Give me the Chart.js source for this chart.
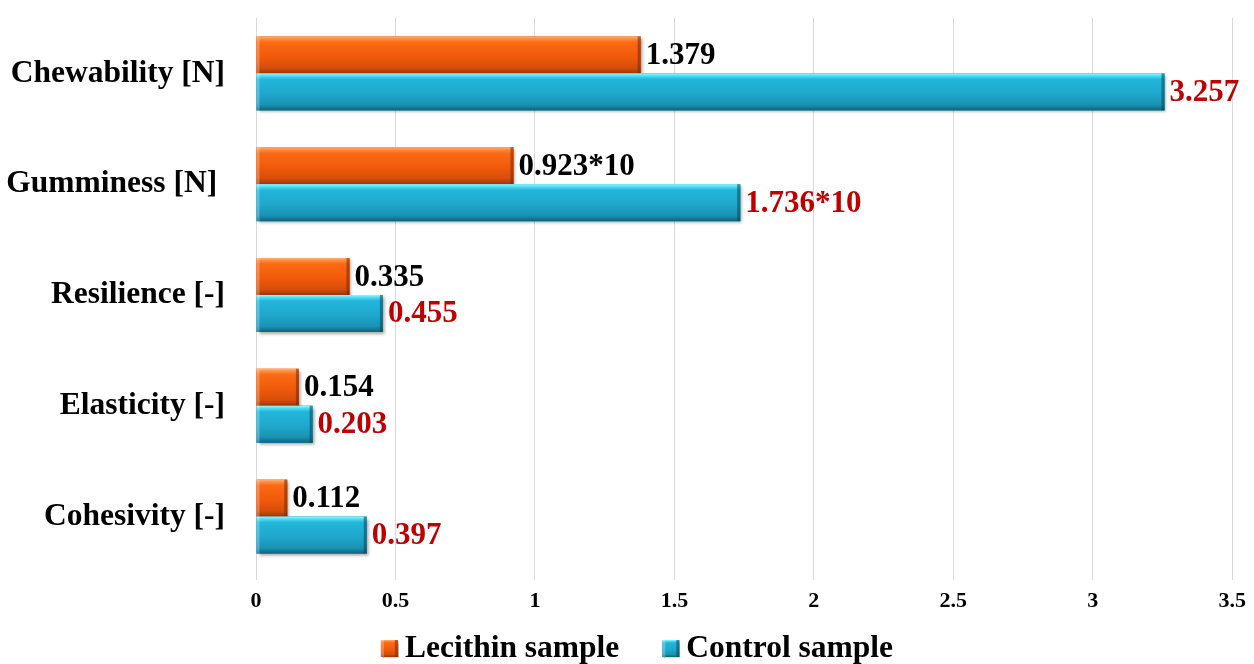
<!DOCTYPE html>
<html>
<head>
<meta charset="utf-8">
<script src="https://cdn.jsdelivr.net/npm/chart.js@4/dist/chart.umd.min.js"></script>
<style>
  html, body { margin: 0; padding: 0; background: #ffffff; }
  #wrap { width: 1254px; height: 664px; position: relative; }
</style>
</head>
<body>
<div id="wrap"><canvas id="chart"></canvas></div>
<script>
// Texture profile measurements
const categories = ['Chewability [N]', 'Gumminess [N] ', 'Resilience [-]', 'Elasticity [-]', 'Cohesivity [-]'];
const lecithinValues = [1.379, 0.923, 0.335, 0.154, 0.112];
const controlValues = [3.257, 1.736, 0.455, 0.203, 0.397];
// Gumminess is shown in tens of newtons
const valueSuffix = ['', '*10', '', '', ''];
const seriesNames = ['Lecithin sample', 'Control sample'];
const xTicks = [0, 0.5, 1, 1.5, 2, 2.5, 3, 3.5];

const FONT = "'Liberation Serif', 'Times New Roman', serif";

const palettes = [
  { base: '#f25c0c', stops: [[0, '#ffb27e'], [0.07, '#ff8a3c'], [0.16, '#fb6a14'], [0.55, '#f05a0a'], [0.85, '#d44e0b'], [1, '#9c3807']], edge: 'rgba(120,40,0,0.55)', label: '#000000' },
  { base: '#1ea8cc', stops: [[0, '#9af6ff'], [0.07, '#4adcf2'], [0.16, '#22b6da'], [0.55, '#1ea8cc'], [0.85, '#1a92b2'], [1, '#0f627a']], edge: 'rgba(8,70,90,0.55)', label: '#c00000' }
];

function fillBevel(ctx, left, top, w, h, pal) {
  const g = ctx.createLinearGradient(0, top, 0, top + h);
  pal.stops.forEach(s => g.addColorStop(s[0], s[1]));
  ctx.fillStyle = g;
  ctx.fillRect(left, top, w, h);
  // lighter left cap, darker right cap
  const cap = Math.min(3, w / 3);
  ctx.fillStyle = 'rgba(255,255,255,0.25)';
  ctx.fillRect(left, top, cap, h);
  ctx.fillStyle = pal.edge;
  ctx.fillRect(left + w - cap, top, cap, h);
}

// Shaded bar faces with a soft drop shadow
const bevelBars = {
  id: 'bevelBars',
  afterDatasetsDraw(chart) {
    const ctx = chart.ctx;
    chart.data.datasets.forEach((ds, di) => {
      const meta = chart.getDatasetMeta(di);
      const pal = palettes[di];
      meta.data.forEach(bar => {
        const left = Math.min(bar.base, bar.x);
        const right = Math.max(bar.base, bar.x);
        const top = bar.y - bar.height / 2;
        const h = bar.height;
        ctx.save();
        ctx.shadowColor = 'rgba(0,0,0,0.35)';
        ctx.shadowOffsetX = 2;
        ctx.shadowOffsetY = 2;
        ctx.shadowBlur = 3;
        ctx.fillStyle = pal.base;
        ctx.fillRect(left, top, right - left, h);
        ctx.restore();
        ctx.save();
        fillBevel(ctx, left, top, right - left, h, pal);
        ctx.restore();
      });
    });
  }
};

// Value labels at the end of each bar
const valueLabels = {
  id: 'valueLabels',
  afterDatasetsDraw(chart) {
    const ctx = chart.ctx;
    ctx.save();
    ctx.font = 'bold 31px ' + FONT;
    ctx.textAlign = 'left';
    ctx.textBaseline = 'middle';
    chart.data.datasets.forEach((ds, di) => {
      const meta = chart.getDatasetMeta(di);
      ctx.fillStyle = palettes[di].label;
      meta.data.forEach((bar, i) => {
        const text = ds.data[i].toFixed(3) + valueSuffix[i];
        ctx.fillText(text, Math.max(bar.x, bar.base) + 5, bar.y + 1);
      });
    });
    ctx.restore();
  }
};

// Legend row under the axis
const bottomLegend = {
  id: 'bottomLegend',
  afterDraw(chart) {
    const ctx = chart.ctx;
    ctx.save();
    ctx.font = 'bold 31.5px ' + FONT;
    ctx.textBaseline = 'middle';
    ctx.textAlign = 'left';
    const box = 17, gap = 7, spacing = 43;
    const widths = seriesNames.map(n => ctx.measureText(n).width);
    const total = widths.reduce((a, w) => a + box + gap + w, 0) + spacing * (seriesNames.length - 1);
    let x = chart.width / 2 + 10 - total / 2;
    const cy = 648;
    seriesNames.forEach((name, i) => {
      ctx.save();
      ctx.shadowColor = 'rgba(0,0,0,0.3)';
      ctx.shadowOffsetX = 1;
      ctx.shadowOffsetY = 1;
      ctx.shadowBlur = 1;
      ctx.fillStyle = palettes[i].base;
      ctx.fillRect(x, cy - 8, box, box);
      ctx.restore();
      fillBevel(ctx, x, cy - 8, box, box, palettes[i]);
      ctx.fillStyle = '#000000';
      ctx.fillText(name, x + box + gap, cy + 1);
      x += box + gap + widths[i] + spacing;
    });
    ctx.restore();
  }
};

new Chart(document.getElementById('chart'), {
  type: 'bar',
  data: {
    labels: categories,
    datasets: [
      { label: seriesNames[0], data: lecithinValues, backgroundColor: palettes[0].base, borderWidth: 0 },
      { label: seriesNames[1], data: controlValues, backgroundColor: palettes[1].base, borderWidth: 0 }
    ]
  },
  options: {
    indexAxis: 'y',
    responsive: true,
    maintainAspectRatio: false,
    animation: false,
    datasets: { bar: { categoryPercentage: 0.667, barPercentage: 1.0 } },
    layout: { padding: { left: 0, right: 16, top: 18, bottom: 42 } },
    plugins: {
      legend: { display: false },
      tooltip: { enabled: false }
    },
    scales: {
      x: {
        min: 0,
        max: 3.5,
        afterBuildTicks(scale) { scale.ticks = xTicks.map(v => ({ value: v })); },
        afterFit(scale) { scale.height = 50; },
        grid: { color: '#d9d9d9', lineWidth: 1, drawTicks: true, tickLength: 8 },
        border: { display: false },
        ticks: {
          color: '#000000',
          padding: 8,
          font: { family: FONT, size: 22, weight: 'bold' },
          callback: v => String(v)
        }
      },
      y: {
        afterFit(scale) {
          scale.width = 256;
          scale.paddingTop = 0;
          scale.paddingBottom = 0;
        },
        grid: { display: false, drawTicks: false },
        border: { display: false },
        ticks: { color: '#000000', padding: 31, font: { family: FONT, size: 31.5, weight: 'bold' } }
      }
    }
  },
  plugins: [bevelBars, valueLabels, bottomLegend]
});
</script>
</body>
</html>
